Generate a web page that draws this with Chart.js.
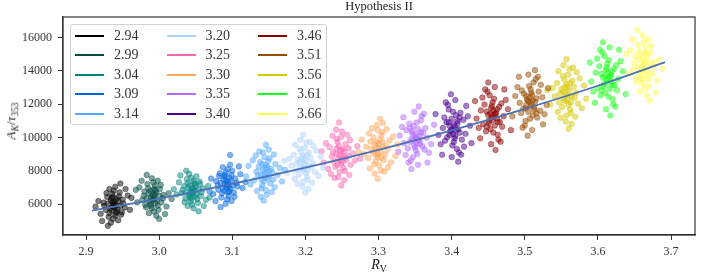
<!DOCTYPE html>
<html>
<head>
<meta charset="utf-8">
<script src="https://cdn.jsdelivr.net/npm/chart.js@4/dist/chart.umd.min.js"></script>
<style>
  html, body { margin: 0; padding: 0; background: #fff; }
  #wrap { position: relative; width: 702px; height: 277px; font-family: "Liberation Serif", "DejaVu Serif", serif; color: #222; }
  #c { position: absolute; left: 0; top: 0; }
  .ov { position: absolute; white-space: nowrap; line-height: 1; }
  #legend { position: absolute; left: 70px; top: 24px; width: 257px; height: 101px; border: 1px solid #d2d2d2; border-radius: 3px; background: rgba(255,255,255,0.8); box-sizing: border-box; }
  .sw { position: absolute; height: 2px; width: 29px; }
  .lt { position: absolute; font-size: 14px; line-height: 14px; color: #333; }
  sub { font-size: 70%; vertical-align: baseline; position: relative; top: 0.3em; }
</style>
</head>
<body>
<div id="wrap">
  <canvas id="c" width="702" height="277"></canvas>
  <div id="title" class="ov" style="left:379px; top:0px; transform:translateX(-50%); font-size:12.5px;">Hypothesis II</div>
  <div id="ytitle" class="ov" style="left:11px; top:121px; transform:translate(-50%,-50%) rotate(-90deg); font-size:13.5px;"><i>A</i><sub><i>K</i></sub>/<i>τ</i><sub>353</sub></div>
  <div id="xtitle" class="ov" style="left:379px; top:265px; transform:translate(-50%,-50%); font-size:14px;"><i>R</i><sub>V</sub></div>
  <div id="legend"></div>
</div>
<script>
// ---- categories / tick labels ----
const rvLabels = ['2.94','2.99','3.04','3.09','3.14','3.20','3.25','3.30','3.35','3.40','3.46','3.51','3.56','3.61','3.66'];
const xTicks = [2.9, 3.0, 3.1, 3.2, 3.3, 3.4, 3.5, 3.6, 3.7];
const yTicks = [6000, 8000, 10000, 12000, 14000, 16000];

// ---- fitted curve ----
const fitX = [2.908, 3.0, 3.1, 3.2, 3.3, 3.4, 3.5, 3.6, 3.692];
const fitY = [5600, 6320, 7210, 8190, 9260, 10430, 11720, 13110, 14530];

// ---- scatter clusters: [R_V, A_K/tau353] ----
const c294 = [[2.938,5980],[2.933,5740],[2.944,6180],[2.935,6370],[2.942,5550],[2.930,6030],[2.947,5890],[2.940,5310],[2.936,6610],[2.927,5650],[2.950,6270],[2.939,6130],[2.932,5460],[2.945,6460],[2.937,5840],[2.941,5940],[2.934,6220],[2.943,5700],[2.929,6420],[2.948,5360],[2.924,6080],[2.953,5790],[2.938,6800],[2.937,5120],[2.931,5220],[2.946,6700],[2.925,5890],[2.951,6030],[2.935,5600],[2.942,6320],[2.928,6660],[2.949,5500],[2.920,5410],[2.957,6510],[2.940,7040],[2.934,4880],[2.917,6180],[2.960,5650],[2.944,5020],[2.932,6900],[2.939,5790],[2.936,6080],[2.954,6900],[2.922,4980],[2.913,5840],[2.962,6370],[2.947,7230],[2.930,4690],[2.941,5460],[2.937,6420]];
const c299 = [[2.992,6450],[2.997,6200],[2.986,6650],[2.995,6850],[2.988,6000],[3.000,6500],[2.983,6350],[2.990,5750],[2.994,7100],[3.003,6100],[2.980,6750],[2.991,6600],[2.998,5900],[2.985,6950],[2.993,6300],[2.989,6400],[2.996,6700],[2.987,6150],[3.001,6900],[2.982,5800],[3.006,6550],[2.977,6250],[2.992,7300],[2.993,5550],[2.999,5650],[2.984,7200],[3.005,6350],[2.979,6500],[2.995,6050],[2.988,6800],[3.002,7150],[2.981,5950],[3.010,5850],[2.973,7000],[2.990,7550],[2.996,5300],[3.013,6650],[2.970,6100],[2.986,5450],[2.998,7400],[2.991,6250],[2.994,6550],[2.976,7400],[3.008,5400],[3.017,6300],[2.968,6850],[2.983,7750],[3.000,5100],[2.989,5900],[2.993,6900]];
const c304 = [[3.045,6750],[3.040,6980],[3.051,6570],[3.042,6390],[3.049,7170],[3.037,6710],[3.054,6850],[3.047,7400],[3.043,6160],[3.034,7080],[3.057,6480],[3.046,6620],[3.039,7260],[3.052,6290],[3.044,6890],[3.048,6800],[3.041,6520],[3.050,7030],[3.036,6340],[3.055,7350],[3.031,6660],[3.060,6940],[3.045,5970],[3.044,7580],[3.038,7490],[3.053,6060],[3.032,6850],[3.058,6710],[3.042,7120],[3.049,6430],[3.035,6110],[3.056,7210],[3.027,7310],[3.064,6250],[3.047,5740],[3.041,7810],[3.024,6570],[3.067,7080],[3.051,7670],[3.039,5880],[3.046,6940],[3.043,6660],[3.061,5880],[3.029,7720],[3.020,6890],[3.069,6390],[3.054,5560],[3.037,8000],[3.048,7260],[3.044,6340]];
const c309 = [[3.093,7170],[3.098,7430],[3.087,6960],[3.096,6750],[3.089,7640],[3.101,7120],[3.084,7270],[3.091,7900],[3.095,6490],[3.104,7530],[3.081,6860],[3.092,7010],[3.099,7740],[3.086,6650],[3.094,7320],[3.090,7220],[3.097,6910],[3.088,7480],[3.102,6700],[3.083,7840],[3.107,7060],[3.078,7380],[3.093,6280],[3.094,8100],[3.100,8000],[3.085,6390],[3.106,7270],[3.080,7120],[3.096,7580],[3.089,6800],[3.103,6440],[3.082,7690],[3.111,7790],[3.074,6600],[3.091,6020],[3.097,8360],[3.114,6960],[3.071,7530],[3.087,8210],[3.099,6180],[3.092,7380],[3.095,7060],[3.077,6180],[3.109,8260],[3.118,7320],[3.069,6750],[3.084,5820],[3.097,8950],[3.090,7740],[3.094,6700]];
const c314 = [[3.147,7880],[3.142,8050],[3.150,7650],[3.139,7760],[3.146,8340],[3.143,7360],[3.153,8110],[3.136,8230],[3.149,8580],[3.141,7130],[3.156,7470],[3.133,7940],[3.145,7590],[3.148,8230],[3.138,8520],[3.152,7240],[3.144,8810],[3.146,6840],[3.159,8400],[3.130,7420],[3.151,8750],[3.140,6950],[3.155,7880],[3.135,7710],[3.142,9100],[3.147,6550],[3.162,7760],[3.128,8630],[3.158,7010],[3.132,8920],[3.145,8170],[3.144,7820],[3.150,9270],[3.139,6430],[3.165,8170],[3.125,7180],[3.154,6720],[3.137,9160],[3.168,7360],[3.122,8290],[3.148,7530],[3.141,8400],[3.157,8980],[3.134,6780],[3.146,9560],[3.143,6200],[3.172,8050],[3.119,7650],[3.151,8000],[3.140,7470]];
const c320 = [[3.196,8420],[3.201,8600],[3.193,8180],[3.204,8300],[3.197,8900],[3.200,7880],[3.190,8660],[3.207,8780],[3.194,9140],[3.202,7640],[3.187,8000],[3.210,8480],[3.198,8120],[3.195,8780],[3.205,9080],[3.191,7760],[3.199,9380],[3.197,7340],[3.184,8960],[3.213,7940],[3.192,9320],[3.203,7460],[3.188,8420],[3.208,8240],[3.201,9680],[3.196,7040],[3.181,8300],[3.215,9200],[3.185,7520],[3.211,9500],[3.198,8720],[3.199,8360],[3.193,9860],[3.204,6920],[3.178,8720],[3.218,7700],[3.189,7220],[3.206,9740],[3.175,7880],[3.221,8840],[3.195,8060],[3.202,8960],[3.186,9560],[3.209,7280],[3.197,10160],[3.200,6680],[3.171,8600],[3.224,8180],[3.192,8540],[3.203,8000]];
const c325 = [[3.250,8920],[3.245,8730],[3.253,9170],[3.242,9040],[3.249,8420],[3.246,9480],[3.256,8670],[3.239,8550],[3.252,8180],[3.244,9730],[3.259,9350],[3.236,8860],[3.248,9230],[3.251,8550],[3.241,8240],[3.255,9600],[3.247,7930],[3.249,10040],[3.262,8360],[3.233,9420],[3.254,7990],[3.243,9910],[3.258,8920],[3.238,9110],[3.245,7620],[3.250,10350],[3.265,9040],[3.231,8110],[3.261,9850],[3.235,7800],[3.248,8610],[3.247,8980],[3.253,7430],[3.242,10470],[3.268,8610],[3.228,9660],[3.257,10160],[3.240,7560],[3.271,9480],[3.225,8490],[3.251,9290],[3.244,8360],[3.260,7740],[3.237,10100],[3.249,7120],[3.246,10900],[3.275,8730],[3.222,9170],[3.254,8800],[3.243,9350]];
const c330 = [[3.298,9320],[3.303,9130],[3.295,9570],[3.306,9440],[3.299,8820],[3.302,9880],[3.292,9070],[3.309,8950],[3.296,8580],[3.304,10130],[3.289,9750],[3.312,9260],[3.300,9630],[3.297,8950],[3.307,8640],[3.293,10000],[3.301,8330],[3.299,10440],[3.286,8760],[3.315,9820],[3.294,8390],[3.305,10310],[3.290,9320],[3.310,9510],[3.303,8020],[3.298,10750],[3.283,9440],[3.317,8510],[3.287,10250],[3.313,8200],[3.300,9010],[3.301,9380],[3.295,7830],[3.306,10870],[3.280,9010],[3.320,10060],[3.291,10560],[3.308,7960],[3.277,9880],[3.323,8890],[3.297,9690],[3.304,8760],[3.288,8140],[3.311,10500],[3.299,7520],[3.302,11120],[3.273,9130],[3.326,9570],[3.294,9200],[3.305,9750]];
const c335 = [[3.350,10050],[3.355,9860],[3.346,10250],[3.357,10120],[3.349,9530],[3.354,10510],[3.343,9730],[3.360,9470],[3.351,9210],[3.348,10700],[3.361,10310],[3.340,9340],[3.356,9790],[3.345,9920],[3.352,10900],[3.353,9010],[3.338,10440],[3.363,9270],[3.347,8820],[3.358,11030],[3.342,10830],[3.366,9990],[3.335,9660],[3.351,10180],[3.350,9400],[3.359,11290],[3.344,8620],[3.369,9080],[3.332,10640],[3.354,8360],[3.349,11550],[3.364,10570],[3.337,8950],[3.372,9600],[3.329,10120],[3.357,9600],[3.346,10380],[3.362,11420],[3.341,8490],[3.353,9920],[3.348,9860],[3.376,10770],[3.327,9140],[3.355,11870],[3.345,8100],[3.367,8490],[3.334,11220],[3.352,9660],[3.358,10310],[3.343,10570]];
const c340 = [[3.404,10640],[3.399,10430],[3.408,10850],[3.397,10710],[3.405,10080],[3.400,11130],[3.411,10290],[3.394,10010],[3.403,9730],[3.406,11340],[3.393,10920],[3.414,9870],[3.398,10360],[3.409,10500],[3.402,11550],[3.401,9520],[3.416,11060],[3.391,9800],[3.407,9310],[3.396,11690],[3.412,11480],[3.388,10570],[3.419,10220],[3.403,10780],[3.404,9940],[3.395,11970],[3.410,9100],[3.385,9590],[3.422,11270],[3.400,8820],[3.405,12250],[3.390,11200],[3.417,9450],[3.382,10150],[3.425,10710],[3.397,10150],[3.408,10990],[3.392,12110],[3.413,8960],[3.401,10500],[3.406,10430],[3.378,11410],[3.427,9660],[3.399,12600],[3.409,8540],[3.387,8960],[3.420,11900],[3.402,10220],[3.396,10920],[3.411,11200]];
const c346 = [[3.455,11210],[3.460,11420],[3.451,11000],[3.462,11140],[3.454,11770],[3.459,10720],[3.448,11560],[3.465,11840],[3.456,12120],[3.453,10510],[3.466,10930],[3.445,11980],[3.461,11490],[3.450,11350],[3.457,10300],[3.458,12330],[3.443,10790],[3.468,12050],[3.452,12540],[3.463,10160],[3.447,10370],[3.471,11280],[3.440,11630],[3.456,11070],[3.455,11910],[3.464,9880],[3.449,12750],[3.474,12260],[3.437,10580],[3.459,13030],[3.454,9600],[3.469,10650],[3.442,12400],[3.477,11700],[3.434,11140],[3.462,11700],[3.451,10860],[3.467,9740],[3.446,12890],[3.458,11350],[3.453,11420],[3.481,10440],[3.432,12190],[3.460,9250],[3.450,13310],[3.472,12890],[3.439,9950],[3.457,11630],[3.463,10930],[3.448,10650]];
const c351 = [[3.509,12010],[3.504,12220],[3.513,11810],[3.502,11950],[3.510,12560],[3.505,11540],[3.516,12350],[3.499,12630],[3.508,12900],[3.511,11330],[3.498,11740],[3.519,12760],[3.503,12290],[3.514,12150],[3.507,11130],[3.506,13100],[3.521,11610],[3.496,12830],[3.512,13310],[3.501,10990],[3.517,11200],[3.493,12080],[3.524,12420],[3.508,11880],[3.509,12690],[3.500,10720],[3.515,13510],[3.490,13030],[3.527,11400],[3.505,13780],[3.510,10450],[3.495,11470],[3.522,13170],[3.487,12490],[3.530,11950],[3.502,12490],[3.513,11670],[3.497,10590],[3.518,13650],[3.506,12150],[3.511,12220],[3.483,11270],[3.532,12970],[3.504,10110],[3.514,14050],[3.492,13650],[3.525,10790],[3.507,12420],[3.501,11740],[3.516,11470]];
const c356 = [[3.556,12620],[3.561,12840],[3.553,12330],[3.564,12480],[3.557,13200],[3.560,11970],[3.550,12910],[3.567,13050],[3.554,13480],[3.562,11680],[3.547,12120],[3.570,12690],[3.558,12260],[3.555,13050],[3.565,13410],[3.551,11830],[3.559,13770],[3.557,11320],[3.544,13270],[3.573,12040],[3.552,13700],[3.563,11470],[3.548,12620],[3.568,12400],[3.561,14130],[3.556,10960],[3.541,12480],[3.575,13560],[3.545,11540],[3.571,13920],[3.558,12980],[3.559,12550],[3.553,14350],[3.564,10820],[3.538,12980],[3.578,11760],[3.549,11180],[3.566,14200],[3.535,11970],[3.581,13120],[3.555,12190],[3.562,13270],[3.546,13990],[3.569,11250],[3.557,14710],[3.560,10530],[3.531,12840],[3.584,12330],[3.552,12760],[3.563,12120]];
const c361 = [[3.612,13450],[3.617,13680],[3.608,13220],[3.619,13370],[3.611,14060],[3.616,12920],[3.605,13830],[3.622,14130],[3.613,14440],[3.610,12690],[3.623,13140],[3.602,14280],[3.618,13750],[3.607,13600],[3.614,12460],[3.615,14660],[3.600,12990],[3.625,14360],[3.609,14890],[3.620,12310],[3.604,12540],[3.628,13520],[3.597,13900],[3.613,13300],[3.612,14210],[3.621,12000],[3.606,15120],[3.631,14590],[3.594,12760],[3.616,15420],[3.611,11700],[3.626,12840],[3.599,14740],[3.634,13980],[3.591,13370],[3.619,13980],[3.608,13070],[3.624,11850],[3.603,15270],[3.615,13600],[3.610,13680],[3.638,12610],[3.589,14510],[3.617,11320],[3.607,15730],[3.629,15270],[3.596,12080],[3.614,13900],[3.620,13140],[3.605,12840]];
const c366 = [[3.663,14380],[3.668,13980],[3.657,14700],[3.666,15020],[3.659,13660],[3.671,14460],[3.654,14220],[3.661,13260],[3.665,15420],[3.674,13820],[3.651,14860],[3.662,14620],[3.669,13500],[3.656,15180],[3.664,14140],[3.660,14300],[3.667,14780],[3.658,13900],[3.672,15100],[3.653,13340],[3.677,14540],[3.648,14060],[3.663,15740],[3.664,12940],[3.670,13100],[3.655,15580],[3.676,14220],[3.650,14460],[3.666,13740],[3.659,14940],[3.673,15500],[3.652,13580],[3.681,13420],[3.644,15260],[3.661,16140],[3.667,12540],[3.684,14700],[3.641,13820],[3.657,12780],[3.669,15900],[3.662,14060],[3.665,14540],[3.647,15900],[3.679,12700],[3.688,14140],[3.639,15020],[3.654,16460],[3.671,12220],[3.660,13500],[3.664,15100]];

const clusters = [c294, c299, c304, c309, c314, c320, c325, c330, c335, c340, c346, c351, c356, c361, c366];
const colors = ['#000000','#004c45','#008580','#0066dd','#55aaff','#b0d4ff','#ff69b4','#ffa95e','#b36bff','#4b0090','#8b0000','#9a4d00','#d6c800','#1aff1a','#fffa50'];

function rgba(hex, a) {
  const n = parseInt(hex.slice(1), 16);
  return 'rgba(' + ((n >> 16) & 255) + ',' + ((n >> 8) & 255) + ',' + (n & 255) + ',' + a + ')';
}

const datasets = clusters.map((pts, i) => ({
  type: 'scatter',
  label: rvLabels[i],
  data: pts.map(p => ({ x: p[0], y: p[1] })),
  backgroundColor: rgba(colors[i], 0.5),
  borderColor: rgba(colors[i], 0.6),
  borderWidth: 0.6,
  pointRadius: 2.8,
  pointHoverRadius: 2.8,
  order: 1
}));
datasets.push({
  type: 'line',
  label: 'fit',
  data: fitX.map((x, i) => ({ x: x, y: fitY[i] })),
  borderColor: '#4a72b5',
  borderWidth: 1.8,
  pointRadius: 0,
  tension: 0.4,
  cubicInterpolationMode: 'monotone',
  fill: false,
  order: -1
});

const tickFont = { family: '"Liberation Serif", "DejaVu Serif", serif', size: 12 };
const frame = {
  id: 'frame',
  afterDraw(chart) {
    const a = chart.chartArea, ctx = chart.ctx;
    ctx.save();
    ctx.strokeStyle = '#333';
    ctx.lineWidth = 1.2;
    ctx.strokeRect(a.left, a.top, a.right - a.left, a.bottom - a.top);
    ctx.restore();
  }
};

new Chart(document.getElementById('c'), {
  type: 'scatter',
  data: { datasets: datasets },
  options: {
    responsive: false,
    animation: false,
    devicePixelRatio: 1,
    layout: { padding: { left: 0, top: 17, right: 7, bottom: 0 } },
    plugins: { legend: { display: false }, tooltip: { enabled: false }, title: { display: false } },
    scales: {
      x: {
        type: 'linear', min: 2.8685, max: 3.7328,
        afterBuildTicks: s => { s.ticks = xTicks.map(v => ({ value: v })); },
        afterFit: s => { s.height = 42; },
        ticks: { callback: v => Number(v).toFixed(1), font: tickFont, color: '#333', padding: 5, maxRotation: 0, autoSkip: false },
        grid: { drawOnChartArea: false, drawTicks: true, tickLength: 5, color: '#333', lineWidth: 1 },
        border: { display: true, color: '#333', width: 1.2 }
      },
      y: {
        type: 'linear', min: 4136, max: 17245,
        afterBuildTicks: s => { s.ticks = yTicks.map(v => ({ value: v })); },
        afterFit: s => { s.width = 63; },
        ticks: { callback: v => String(v), font: tickFont, color: '#333', padding: 6, autoSkip: false },
        grid: { drawOnChartArea: false, drawTicks: true, tickLength: 5, color: '#333', lineWidth: 1 },
        border: { display: true, color: '#333', width: 1.2 }
      }
    }
  },
  plugins: [frame]
});

// ---- legend (HTML, 3 columns, column-major) ----
const lg = document.getElementById('legend');
rvLabels.forEach((lab, i) => {
  const col = Math.floor(i / 5), row = i % 5;
  const cy = 11 + row * 19.4;
  const sw = document.createElement('div');
  sw.className = 'sw';
  sw.style.left = (4 + col * 91.5) + 'px';
  sw.style.top = (cy - 1) + 'px';
  sw.style.background = colors[i];
  lg.appendChild(sw);
  const t = document.createElement('div');
  t.className = 'lt';
  t.textContent = lab;
  t.style.left = (43 + col * 91.5) + 'px';
  t.style.top = (cy - 7) + 'px';
  lg.appendChild(t);
});
</script>
</body>
</html>
